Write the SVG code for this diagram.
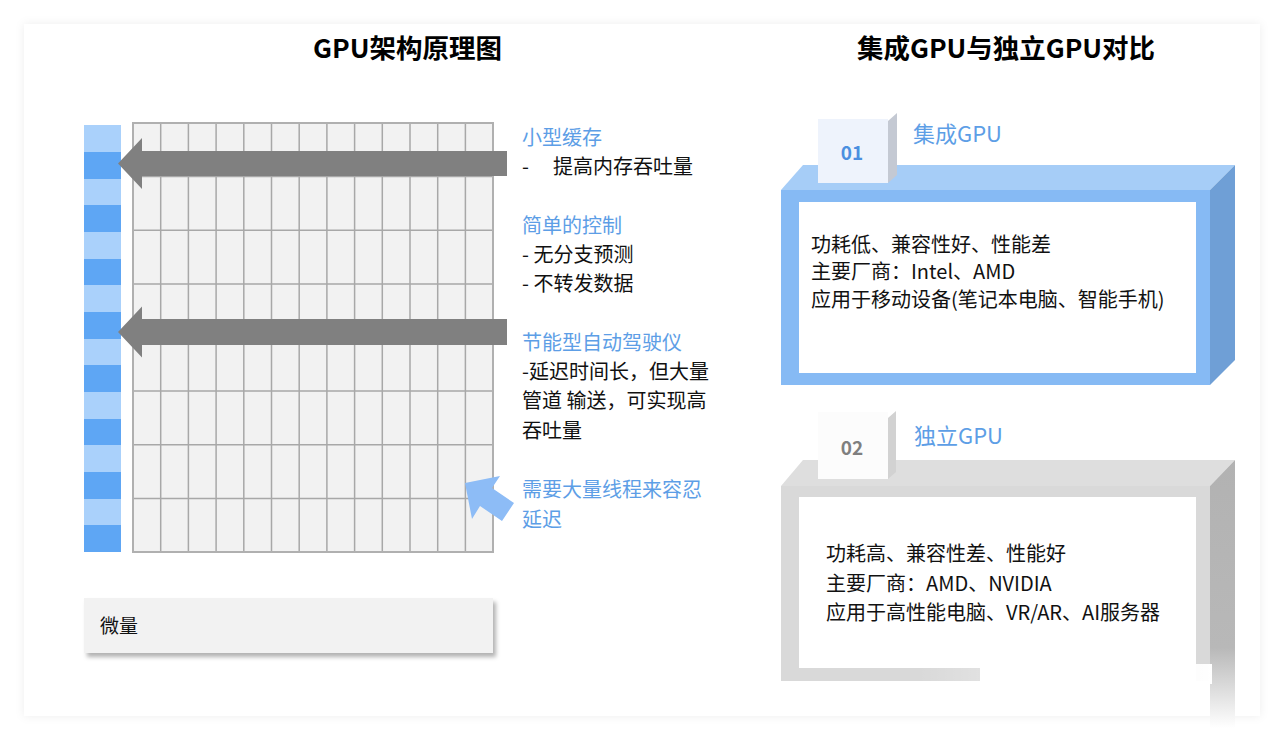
<svg xmlns="http://www.w3.org/2000/svg" width="1284" height="740" viewBox="0 0 1284 740">
<defs>
<style>
text{font-family:"Noto Sans CJK SC","Noto Sans",sans-serif;}
.title{font-size:26px;font-weight:bold;fill:#000;text-anchor:middle;}
.blue{font-size:20px;fill:#5d9ee6;}
.blk{font-size:20px;fill:#111;}
.body{font-size:20px;fill:#111;}
.head{font-size:22px;fill:#5d9ee6;}
.num{font-size:19px;font-weight:bold;text-anchor:middle;}
.cell{fill:none;stroke:#a8a8a8;stroke-width:1.5;}
.garrow{fill:#808080;}
.lt{fill:#aad1fb;}
.dk{fill:#5ea6f4;}
</style>
<filter id="cardShadow" x="-5%" y="-5%" width="110%" height="110%">
<feDropShadow dx="0" dy="0" stdDeviation="5" flood-color="#000" flood-opacity="0.07"/>
</filter>
<filter id="boxShadow" x="-5%" y="-20%" width="115%" height="160%">
<feDropShadow dx="3" dy="4" stdDeviation="2" flood-color="#000" flood-opacity="0.3"/>
</filter>
<linearGradient id="sideFade" x1="0" y1="0" x2="0" y2="1">
<stop offset="0" stop-color="#b2b2b2"/>
<stop offset="0.7" stop-color="#b8b8b8"/>
<stop offset="1" stop-color="#ffffff"/>
</linearGradient>
<linearGradient id="bottomFade" x1="0" y1="0" x2="1" y2="0">
<stop offset="0" stop-color="#ffffff" stop-opacity="0"/>
<stop offset="1" stop-color="#ffffff" stop-opacity="1"/>
</linearGradient>
</defs>

<rect x="0" y="0" width="1284" height="740" fill="#ffffff"/>
<rect x="24" y="24" width="1236" height="692" fill="#ffffff" filter="url(#cardShadow)"/>

<g id="titles">
<text class="title" x="407.5" y="58" textLength="189" lengthAdjust="spacingAndGlyphs">GPU架构原理图</text>
<text class="title" x="1006" y="58" textLength="298" lengthAdjust="spacingAndGlyphs">集成GPU与独立GPU对比</text>
</g>

<g id="memory-bar">
<rect class="lt" x="84" y="125" width="37" height="27"/>
<rect class="dk" x="84" y="152" width="37" height="27"/>
<rect class="lt" x="84" y="179" width="37" height="26"/>
<rect class="dk" x="84" y="205" width="37" height="27"/>
<rect class="lt" x="84" y="232" width="37" height="27"/>
<rect class="dk" x="84" y="259" width="37" height="26"/>
<rect class="lt" x="84" y="285" width="37" height="27"/>
<rect class="dk" x="84" y="312" width="37" height="27"/>
<rect class="lt" x="84" y="339" width="37" height="26"/>
<rect class="dk" x="84" y="365" width="37" height="27"/>
<rect class="lt" x="84" y="392" width="37" height="27"/>
<rect class="dk" x="84" y="419" width="37" height="26"/>
<rect class="lt" x="84" y="445" width="37" height="27"/>
<rect class="dk" x="84" y="472" width="37" height="27"/>
<rect class="lt" x="84" y="499" width="37" height="26"/>
<rect class="dk" x="84" y="525" width="37" height="27"/>
</g>

<g id="core-grid">
<rect x="133" y="123" width="360" height="429" fill="#f2f2f2"/>
<path class="cell" d="M160.7 123V552M188.4 123V552M216.1 123V552M243.8 123V552M271.5 123V552M299.2 123V552M326.9 123V552M354.6 123V552M382.3 123V552M410 123V552M437.7 123V552M465.4 123V552
M133 176.6H493M133 230.2H493M133 283.9H493M133 337.5H493M133 391.1H493M133 444.7H493M133 498.4H493"/>
<rect x="133" y="123" width="360" height="429" fill="none" stroke="#b0b0b0" stroke-width="2"/>
</g>

<g id="connectors">
<polygon class="garrow" points="507,151 142,151 142,138 118,163.5 142,189 142,176 507,176"/>
<polygon class="garrow" points="507,319 142,319 142,306.5 118,332 142,357.5 142,345 507,345"/>
<polygon fill="#8dbcf6" points="465,483 500,476 492,488 514,503 502,521 480,506 472,519"/>
</g>

<g id="notes">
<text class="blue" x="522" y="145">小型缓存</text>
<text class="blk" x="522" y="174">-</text>
<text class="blk" x="553" y="174">提高内存吞吐量</text>
<text class="blue" x="522" y="233">简单的控制</text>
<text class="blk" x="522" y="262">- 无分支预测</text>
<text class="blk" x="522" y="291">- 不转发数据</text>
<text class="blue" x="522" y="350">节能型自动驾驶仪</text>
<text class="blk" x="522" y="379">-延迟时间长，但大量</text>
<text class="blk" x="522" y="408">管道 输送，可实现高</text>
<text class="blk" x="522" y="438">吞吐量</text>
<text class="blue" x="522" y="497">需要大量线程来容忍</text>
<text class="blue" x="522" y="527">延迟</text>
</g>

<g id="micro-box">
<rect x="84" y="598" width="409" height="55" fill="#f2f2f2" filter="url(#boxShadow)"/>
<text class="blk" x="100" y="633" style="font-size:19px">微量</text>
</g>

<g id="integrated-gpu">
<polygon points="781,190 803,165 1235,165 1210,190" fill="#a6cdf7"/>
<rect x="781" y="190" width="429" height="195" fill="#86baf4"/>
<polygon points="1210,190 1235,165 1235,360 1210,385" fill="#6f9fd6"/>
<rect x="799" y="202" width="397" height="171" fill="#ffffff"/>
<rect x="818" y="119" width="70" height="64" fill="#eef3fc"/>
<polygon points="888,121 897,113 897,175 888,183" fill="#c4c9d3"/>
<text class="num" x="852" y="160" fill="#4a8fe0">01</text>
<text class="head" x="913" y="142">集成GPU</text>
<text class="body" x="811" y="252">功耗低、兼容性好、性能差</text>
<text class="body" x="811" y="279">主要厂商：Intel、AMD</text>
<text class="body" x="811" y="307">应用于移动设备(笔记本电脑、智能手机)</text>
</g>

<g id="discrete-gpu">
<polygon points="781,486 803,460 1235,460 1210,486" fill="#dedede"/>
<rect x="781" y="486" width="429" height="195" fill="#d9d9d9"/>
<polygon points="1210,486 1235,460 1235,728 1210,728" fill="url(#sideFade)"/>
<rect x="799" y="497" width="397" height="171" fill="#ffffff"/>
<rect x="918" y="664" width="294" height="20" fill="url(#bottomFade)"/>
<rect x="980" y="668" width="216" height="16" fill="#ffffff"/>
<rect x="818" y="412" width="70" height="67" fill="#fcfcfc"/>
<polygon points="888,418 896,411 896,472 888,479" fill="#d2d2d2"/>
<text class="num" x="852" y="455" fill="#7f7f7f">02</text>
<text class="head" x="914" y="444">独立GPU</text>
<text class="body" x="826" y="561">功耗高、兼容性差、性能好</text>
<text class="body" x="826" y="591">主要厂商：AMD、NVIDIA</text>
<text class="body" x="826" y="620">应用于高性能电脑、VR/AR、AI服务器</text>
</g>
</svg>
